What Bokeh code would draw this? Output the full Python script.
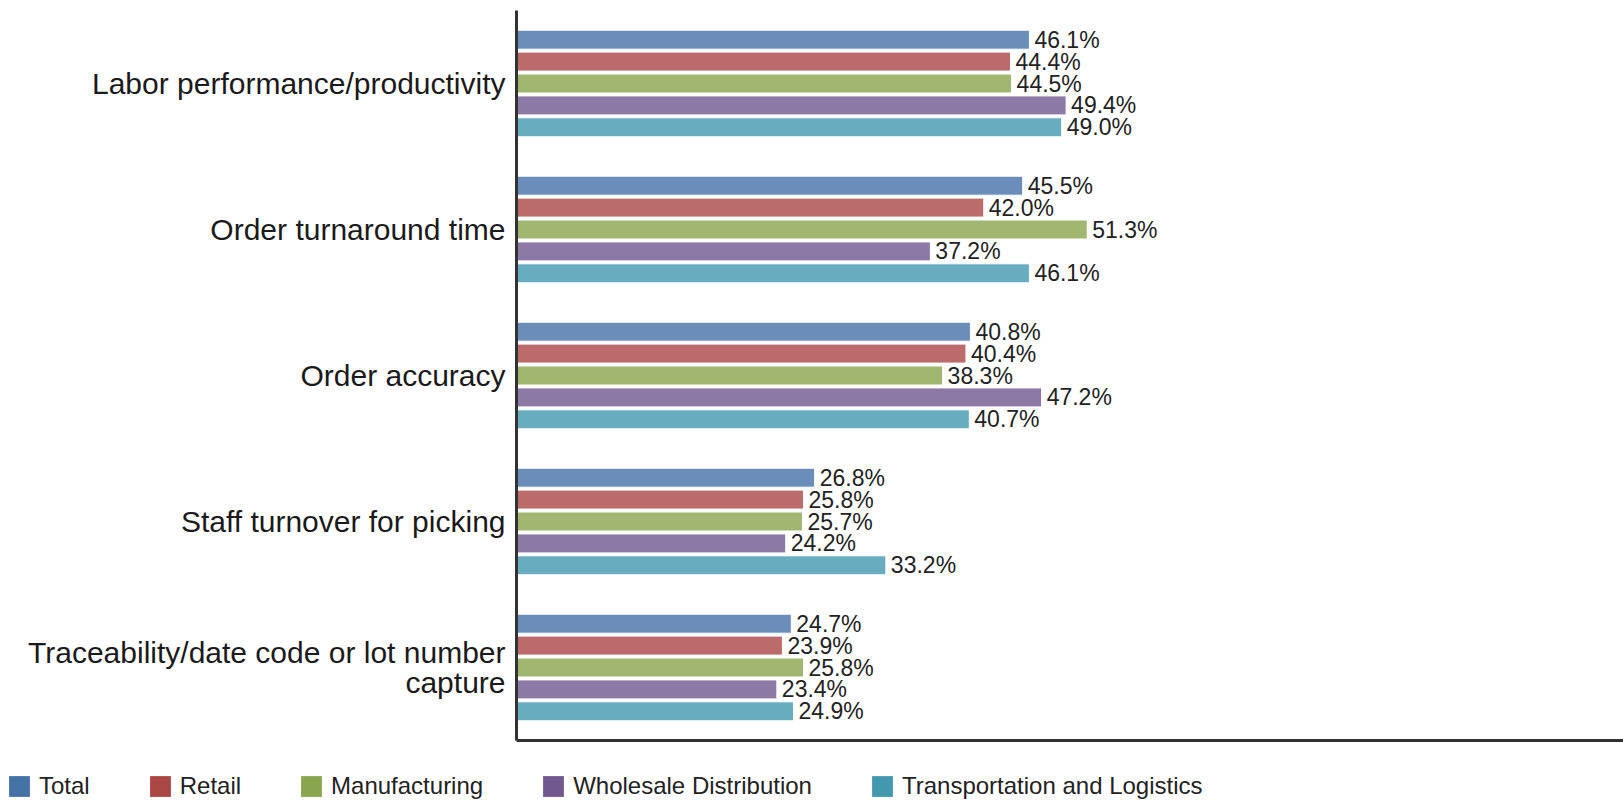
from bokeh.plotting import figure
from bokeh.models import ColumnDataSource, Legend, LegendItem, Range1d
from bokeh.transform import dodge
from bokeh.core.properties import value
from bokeh.embed import file_html
from bokeh.resources import INLINE

categories = [
    "Labor performance/productivity",
    "Order turnaround time",
    "Order accuracy",
    "Staff turnover for picking",
    "Traceability/date code or lot number\ncapture",
]
series_names = ["Total", "Retail", "Manufacturing", "Wholesale Distribution", "Transportation and Logistics"]
total = [46.1, 45.5, 40.8, 26.8, 24.7]
retail = [44.4, 42.0, 40.4, 25.8, 23.9]
manufacturing = [44.5, 51.3, 38.3, 25.7, 25.8]
wholesale = [49.4, 37.2, 47.2, 24.2, 23.4]
transport = [49.0, 46.1, 40.7, 33.2, 24.9]
colors = ["#4572A7", "#AA4643", "#89A54E", "#71588F", "#4198AF"]

FONT = "Liberation Sans"

# canvas / plotting-area geometry (pixels)
W, H = 1623, 802
AX_LEFT = 516          # x pixel of the value axis origin
AX_TOP, AX_BOTTOM = 10, 740
X_MAX = 99.5

n = len(categories)
band_px = (AX_BOTTOM - AX_TOP) / n
x_start = -X_MAX * AX_LEFT / (W - AX_LEFT)
y_top = n + AX_TOP / band_px
y_bottom = -(H - AX_BOTTOM) / band_px

p = figure(
    width=W, height=H,
    x_range=Range1d(x_start, X_MAX), y_range=Range1d(y_bottom, y_top),
    x_axis_location=None, y_axis_location=None,
    output_backend="svg", toolbar_location=None,
    min_border_left=0, min_border_right=0, min_border_top=0, min_border_bottom=0,
)
p.outline_line_color = None
p.xgrid.grid_line_color = None
p.ygrid.grid_line_color = None

# category centres (top category first)
ycat = [n - i - 0.5 for i in range(n)]

offsets = [0.30, 0.15, 0.0, -0.15, -0.30]
all_series = [total, retail, manufacturing, wholesale, transport]
items = []
for name, vals, color, off in zip(series_names, all_series, colors, offsets):
    src = ColumnDataSource(dict(y=ycat, val=vals, lbl=[f"{v:.1f}%" for v in vals]))
    ypos = dodge("y", off)
    p.hbar(y=ypos, left=0, right="val", height=0.13, source=src,
           fill_color=color, fill_alpha=0.8, line_color="white", line_width=1)
    p.text(x="val", y=ypos, text="lbl", source=src, x_offset=5,
           text_baseline="middle", text_align="left", text_font_size="23px",
           text_font=value(FONT), text_color="#222222")
    swatch = p.hbar(y=[ycat[0]], left=[0], right=[0], height=0.1,
                    fill_color=color, line_color=None)
    items.append(LegendItem(label=name, renderers=[swatch]))

# category labels
cat_src = ColumnDataSource(dict(y=ycat, x=[0] * n, label=categories))
p.text(x="x", y="y", text="label", source=cat_src, x_offset=-11,
       text_align="right", text_baseline="middle", text_font_size="30px",
       text_font=value(FONT), text_color="#1a1a1a", text_line_height=0.9)

# axis lines
p.segment(x0=[0], y0=[0], x1=[0], y1=[n], line_color="#333333", line_width=3)
p.segment(x0=[0], y0=[0], x1=[X_MAX], y1=[0], line_color="#333333", line_width=3)

legend = Legend(
    items=items, orientation="horizontal", location=(6, 2),
    glyph_width=26, glyph_height=26, label_standoff=7, spacing=57,
    padding=0, margin=0, border_line_color=None, background_fill_alpha=0,
    label_text_font_size="24px", label_text_font=FONT, label_text_color="#222222",
    label_text_baseline="middle",
)
p.add_layout(legend)

open("out.html", "w").write(file_html(p, INLINE))
